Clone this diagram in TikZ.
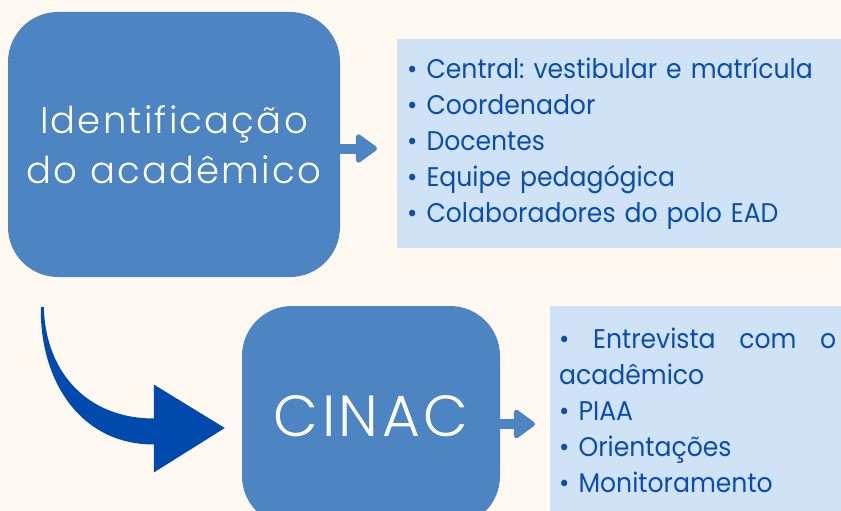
\documentclass[tikz,border=0pt]{standalone}
\usepackage{fontspec}
\setmainfont{Poppins}
\newfontfamily\titlefont{Poppins}[UprightFont=* Light,LetterSpace=6]
\newfontfamily\listfont{Poppins}[FakeStretch=0.93]
\usetikzlibrary{arrows.meta,calc,positioning}
\definecolor{paper}{HTML}{FFF9F1}
\definecolor{boxblue}{HTML}{4D84C2}
\definecolor{listblue}{HTML}{CFE2F6}
\definecolor{inkblue}{HTML}{0A4EAD}
\definecolor{deepblue}{HTML}{004AAD}
\tikzset{
  >={Triangle[length=23pt,width=32pt,line width=5pt,round]},
}
\tikzstyle{titlebox}=[fill=boxblue,rounded corners=50pt,text=white,align=center]
\tikzstyle{listbox}=[fill=listblue,text=inkblue,align=left,anchor=north west,font=\listfont\fontsize{27}{36}\selectfont]
\tikzstyle{flow}=[draw=boxblue,fill=boxblue,line width=10pt,->]
\frenchspacing

\begin{document}
\begin{tikzpicture}[x=1pt,y=-1pt]
    \useasboundingbox (0,0) rectangle (841,511);
    \fill[paper] (0,0) rectangle (841,511);
    \clip (0,0) rectangle (841,511);
    \node[titlebox,minimum width=332pt,minimum height=265pt,
      font=\titlefont\fontsize{37}{50}\selectfont] (ident) at (174,144.5) {Identificação\\do acadêmico};
    \node[listbox,minimum width=444pt,minimum height=209pt,inner xsep=10pt,text width=424pt]
      (quem) at (397,39) {• Central: vestibular e matrícula\\• Coordenador\\• Docentes\\• Equipe pedagógica\\• Colaboradores do polo EAD};
    \node[titlebox,minimum width=258pt,minimum height=220pt,
      font=\titlefont\fontsize{58}{58}\selectfont] (cinac) at (371,416) {CINAC};
    \node[listbox,inner xsep=9pt,inner ysep=22pt,text width=277pt]
      (acoes) at (550,306) {\makebox[277pt][l]{•\hfill Entrevista\hfill com\hfill o}\\acadêmico\\• PIAA\\• Orientações\\• Monitoramento};
    \draw[flow,shorten >=20pt] ([yshift=-4pt]ident.east) -- ([yshift=-4pt]ident.east -| quem.west);
    \draw[flow,shorten >=15pt] ([yshift=-8pt]cinac.east) -- ([yshift=-8pt]cinac.east -| acoes.west);
    \coordinate (bend) at ($(ident.south west)+(33,30)$);
    \coordinate (tip) at ($(cinac.west)+(-17,12)$);
    \fill[deepblue] (bend) .. controls +(-1,73) and +(-74,0) .. ($(tip)+(-71,16.5)$)
      -- ++(0,28) -- (tip) -- ++(-71,-43.5) -- ++(0,34)
      .. controls +(-64,0) and +(2,68) .. ($(bend)+(3,0)$) -- cycle;
\end{tikzpicture}
\end{document}
